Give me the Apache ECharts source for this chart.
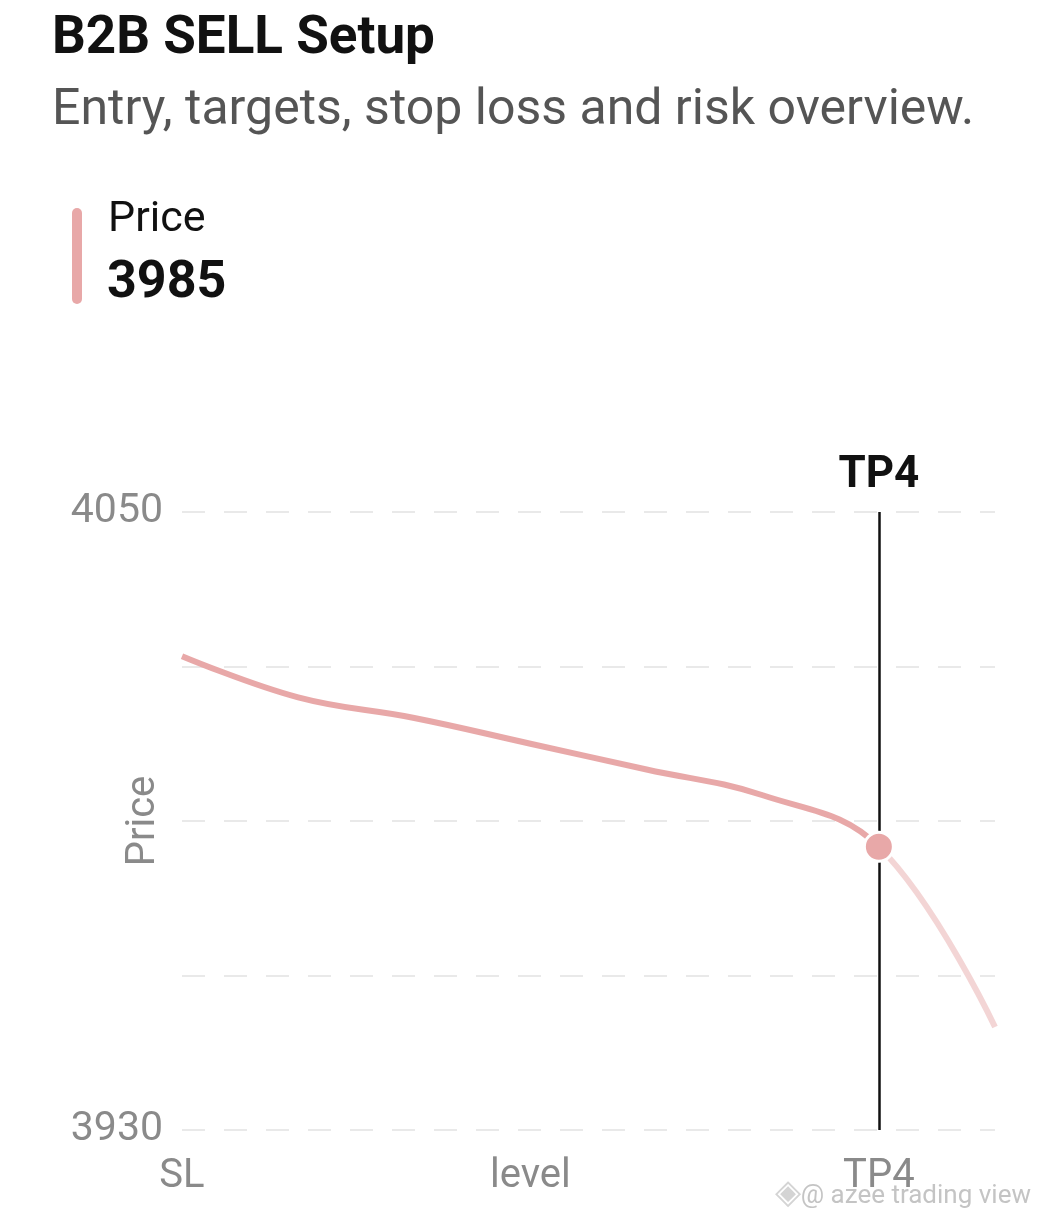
<!DOCTYPE html>
<html><head><meta charset="utf-8">
<script src="https://cdn.jsdelivr.net/npm/echarts@6/dist/echarts.min.js"></script>
<style>html,body{margin:0;padding:0;background:#fff}#c{width:1039px;height:1220px}</style>
</head><body><div id="c"></div>
<script>
const categories = ['SL', 'Entry', 'TP1', 'level', 'TP2', 'TP3', 'TP4', 'TP5'];
const priceValues = [4022, 4014, 4010, 4005, 4000, 3995, 3985, 3950];
const yTicks = [3930, 4050];
const activeIndex = 6;

const FONT = 'Roboto, "Noto Sans", sans-serif';
const lineColor = '#e8a8a8';
const fadedColor = '#f3d5d5';
const split = activeIndex / (categories.length - 1);

const chart = echarts.init(document.getElementById('c'));
chart.setOption({
  backgroundColor: '#ffffff',
  animation: false,
  title: [
    { text: 'B2B SELL Setup', left: 47, top: 8,
      textStyle: { fontFamily: FONT, fontSize: 53, fontWeight: 'bold', color: '#111' } },
    { text: 'Entry, targets, stop loss and risk overview.', left: 47, top: 81,
      textStyle: { fontFamily: FONT, fontSize: 50, fontWeight: 'normal', color: '#555' } }
  ],
  graphic: [
    { type: 'rect', shape: { x: 72, y: 208, width: 10, height: 96, r: 5 }, style: { fill: lineColor } },
    { type: 'text', left: 108, top: 199, style: { text: 'Price', fontFamily: FONT, fontSize: 43, fill: '#111' } },
    { type: 'text', left: 107, top: 258, style: { text: String(priceValues[activeIndex]), fontFamily: FONT, fontSize: 52, fontWeight: 'bold', fill: '#111' } },
    { type: 'text', left: 775, top: 1177, style: { text: '◈', fontFamily: '"DejaVu Sans", sans-serif', fontSize: 34, fill: '#d4d4d4' } },
    { type: 'text', right: 8, top: 1183, style: { text: '@ azee trading view', fontFamily: FONT, fontSize: 26, fill: '#c4c4c4' } }
  ],
  grid: { left: 182, right: 44, top: 512, bottom: 90, containLabel: false },
  xAxis: {
    type: 'category', data: categories, boundaryGap: false,
    axisLine: { show: false }, axisTick: { show: false },
    axisLabel: { interval: 2, margin: 27, fontFamily: FONT, fontSize: 40, color: '#8a8a8a' },
    splitLine: { show: false }
  },
  yAxis: {
    type: 'value', min: yTicks[0], max: yTicks[1], interval: 30,
    name: 'Price', nameLocation: 'middle', nameGap: 18, nameRotate: 90, nameMoveOverlap: false,
    nameTextStyle: { fontFamily: FONT, fontSize: 40, color: '#8a8a8a' },
    axisLine: { show: false }, axisTick: { show: false },
    axisLabel: {
      margin: 19, fontFamily: FONT, fontSize: 41, color: '#8a8a8a',
      formatter: v => (yTicks.indexOf(v) >= 0 ? String(v) : '')
    },
    splitLine: { show: true, lineStyle: { color: '#e9e9e9', width: 2, type: [23, 19] } }
  },
  series: [{
    type: 'line',
    smooth: 0.4,
    symbol: 'none',
    showSymbol: true,
    lineStyle: {
      width: 6,
      color: new echarts.graphic.LinearGradient(0, 0, 1, 0, [
        { offset: 0, color: lineColor },
        { offset: split, color: lineColor },
        { offset: split, color: fadedColor },
        { offset: 1, color: fadedColor }
      ])
    },
    itemStyle: { color: lineColor },
    data: priceValues.map((v, i) => i === activeIndex
      ? { value: v, symbol: 'circle', symbolSize: 29, itemStyle: { color: lineColor, borderColor: '#ffffff', borderWidth: 3 } }
      : { value: v, symbol: 'none' }),
    markLine: {
      silent: true, symbol: 'none', animation: false, z: 1,
      lineStyle: { color: '#111', width: 2.5, type: 'solid' },
      label: { show: true, position: 'end', distance: 14, formatter: categories[activeIndex],
        fontFamily: FONT, fontSize: 44, fontWeight: 'bold', color: '#111' },
      data: [{ xAxis: categories[activeIndex] }]
    },
    z: 3
  }]
});
</script>
</body></html>
